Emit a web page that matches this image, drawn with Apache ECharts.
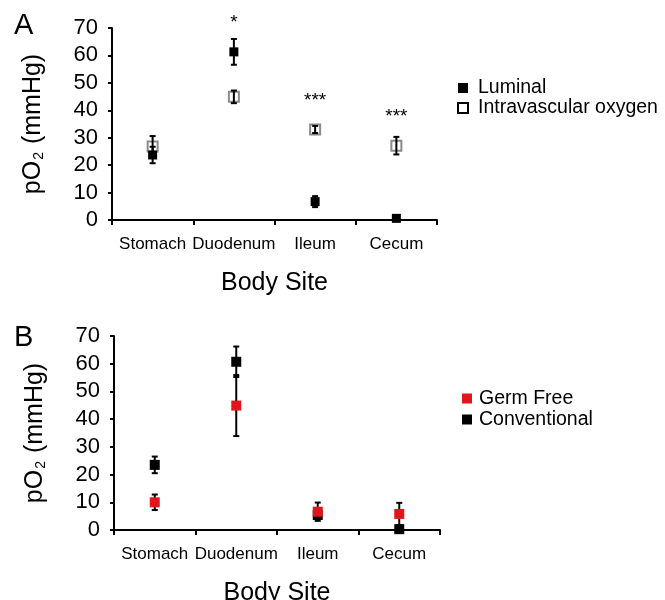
<!DOCTYPE html>
<html>
<head>
<meta charset="utf-8">
<script src="https://cdn.jsdelivr.net/npm/echarts@6/dist/echarts.min.js"></script>
<style>html,body{margin:0;padding:0;background:#fff}#c{width:665px;height:600px}</style>
</head>
<body>
<div id="c"></div>
<script>
const categories = ['Stomach', 'Duodenum', 'Ileum', 'Cecum'];
const yMin = 0, yMax = 70, yInterval = 10;
// Panel A
const luminal = [23.7, 61.3, 6.7, 0.6];
const luminalErr = [3.0, 4.7, 2.0, 0.4];
const intravascular = [26.8, 44.9, 33.0, 27.1];
const intravascularErr = [3.8, 2.3, 1.3, 3.2];
const sigLabels = ['', '*', '***', '***'];
const sigY = [null, 72.0, 43.5, 37.5];
// Panel B
const germFree = [10.0, 44.9, 6.6, 5.8];
const germFreeErr = [2.8, 11.0, 3.3, 4.0];
const conventional = [23.5, 60.7, 5.4, 0.3];
const conventionalErr = [3.0, 5.5, 1.0, 0.3];

const FONT = 'Liberation Sans, Arial, Helvetica, sans-serif';
const chart = echarts.init(document.getElementById('c'), null, {renderer: 'canvas'});

function errData(vals, errs) {
  return vals.map((v, i) => [i, v - errs[i], v + errs[i]]);
}
function errSeries(name, gi, vals, errs, z) {
  return {
    type: 'custom', name: name, xAxisIndex: gi, yAxisIndex: gi, z: z,
    clip: false, silent: true,
    data: errData(vals, errs),
    renderItem: function (params, api) {
      const lo = api.coord([api.value(0), api.value(1)]);
      const hi = api.coord([api.value(0), api.value(2)]);
      const w = 3;
      const st = {stroke: '#000', lineWidth: 2};
      return {type: 'group', children: [
        {type: 'line', shape: {x1: lo[0], y1: lo[1], x2: hi[0], y2: hi[1]}, style: st},
        {type: 'line', shape: {x1: lo[0] - w, y1: lo[1], x2: lo[0] + w, y2: lo[1]}, style: st},
        {type: 'line', shape: {x1: hi[0] - w, y1: hi[1], x2: hi[0] + w, y2: hi[1]}, style: st}
      ]};
    }
  };
}

function xAxisCfg(gi) {
  return {
    type: 'category', gridIndex: gi, data: categories, boundaryGap: true,
    name: 'Body Site', nameLocation: 'middle', nameGap: 51,
    nameTextStyle: {fontFamily: FONT, fontSize: 25, color: '#000'},
    axisLine: {lineStyle: {color: '#000', width: 2}},
    axisTick: {show: true, length: 5, inside: false, lineStyle: {color: '#000', width: 2}},
    axisLabel: {fontFamily: FONT, fontSize: 17, color: '#000', margin: 16, interval: 0},
    splitLine: {show: false}
  };
}
function yAxisCfg(gi) {
  return {
    type: 'value', gridIndex: gi, min: yMin, max: yMax, interval: yInterval,
    name: 'pO{sub|2} (mmHg)', nameLocation: 'middle', nameGap: 66,
    nameTextStyle: {fontFamily: FONT, fontSize: 25, color: '#000',
      rich: {sub: {fontFamily: FONT, fontSize: 14, color: '#000', verticalAlign: 'bottom', padding: [12, 1, 0, 1]}}},
    axisLine: {show: true, lineStyle: {color: '#000', width: 2}},
    axisTick: {show: true, length: 4, lineStyle: {color: '#000', width: 2}},
    axisLabel: {fontFamily: FONT, fontSize: 22, color: '#000', margin: 14},
    splitLine: {show: false}
  };
}

const option = {
  backgroundColor: '#fff',
  animation: false,
  title: [
    {text: 'A', left: 9, top: 6, textStyle: {fontFamily: FONT, fontSize: 29, fontWeight: 'normal', color: '#000'}},
    {text: 'B', left: 9, top: 318, textStyle: {fontFamily: FONT, fontSize: 29, fontWeight: 'normal', color: '#000'}}
  ],
  grid: [
    {left: 112, top: 28, width: 325, height: 192, outerBoundsMode: 'none', containLabel: false},
    {left: 114, top: 336, width: 326, height: 194, outerBoundsMode: 'none', containLabel: false}
  ],
  xAxis: [xAxisCfg(0), xAxisCfg(1)],
  yAxis: [yAxisCfg(0), yAxisCfg(1)],
  legend: [
    {
      left: 452, top: 73, orient: 'vertical', itemWidth: 10, itemHeight: 10, itemGap: 0,
      textStyle: {fontFamily: FONT, fontSize: 19.5, color: '#000', lineHeight: 19, padding: [0, 0, 0, 5]},
      data: [
        {name: 'Luminal', icon: 'rect', itemStyle: {color: '#000', borderWidth: 0}},
        {name: 'Intravascular oxygen', icon: 'rect', itemStyle: {color: '#fff', borderColor: '#000', borderWidth: 2}}
      ]
    },
    {
      left: 457, top: 383, orient: 'vertical', itemWidth: 10, itemHeight: 10, itemGap: 0,
      textStyle: {fontFamily: FONT, fontSize: 19.5, color: '#000', lineHeight: 21, padding: [0, 0, 0, 2]},
      data: [
        {name: 'Germ Free', icon: 'rect', itemStyle: {color: '#e3151b'}},
        {name: 'Conventional', icon: 'rect', itemStyle: {color: '#000'}}
      ]
    }
  ],
  series: [
    {
      name: 'Intravascular oxygen', type: 'scatter', xAxisIndex: 0, yAxisIndex: 0, z: 2, clip: false,
      symbol: 'rect', symbolSize: 10,
      itemStyle: {color: '#fff', borderColor: '#8a8a8a', borderWidth: 2, opacity: 1},
      data: intravascular.map((v, i) => [i, v])
    },
    errSeries('errA2', 0, intravascular, intravascularErr, 3),
    errSeries('errA1', 0, luminal, luminalErr, 3),
    {
      name: 'Luminal', type: 'scatter', xAxisIndex: 0, yAxisIndex: 0, z: 4, clip: false,
      symbol: 'rect', symbolSize: 9,
      itemStyle: {color: '#000', opacity: 1},
      data: luminal.map((v, i) => [i, v])
    },
    {
      type: 'custom', name: 'sig', xAxisIndex: 0, yAxisIndex: 0, z: 5, clip: false, silent: true,
      data: sigY.map((v, i) => [i, v, sigLabels[i]]).filter(d => d[1] !== null),
      renderItem: function (params, api) {
        const p = api.coord([api.value(0), api.value(1)]);
        const item = sigY.map((v, i) => [i, v, sigLabels[i]]).filter(dd => dd[1] !== null)[params.dataIndex];
        return {type: 'text', x: p[0], y: p[1], style: {text: item[2], fontFamily: FONT, fontSize: 19,
          fill: '#000', align: 'center', verticalAlign: 'middle'}};
      }
    },
    errSeries('errB1', 1, conventional, conventionalErr, 3),
    errSeries('errB2', 1, germFree, germFreeErr, 3),
    {
      name: 'Conventional', type: 'scatter', xAxisIndex: 1, yAxisIndex: 1, z: 4, clip: false,
      symbol: 'rect', symbolSize: 10,
      itemStyle: {color: '#000', opacity: 1},
      data: conventional.map((v, i) => [i, v])
    },
    {
      name: 'Germ Free', type: 'scatter', xAxisIndex: 1, yAxisIndex: 1, z: 5, clip: false,
      symbol: 'rect', symbolSize: 10,
      itemStyle: {color: '#e3151b', opacity: 1},
      data: germFree.map((v, i) => [i, v])
    }
  ]
};
chart.setOption(option);
</script>
</body>
</html>
